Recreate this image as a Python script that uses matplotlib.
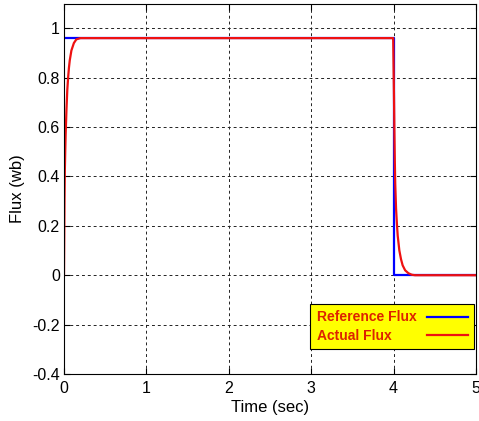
import matplotlib
matplotlib.use("Agg")
import matplotlib.pyplot as plt

plt.rcParams['font.family'] = ['Liberation Sans', 'DejaVu Sans']

ref_t = [0.0, 4.0, 4.0, 5.0]
ref_flux = [0.96, 0.96, 0.0, 0.0]

act_t = [0.0, 0.003, 0.006, 0.01, 0.015, 0.02, 0.03, 0.04, 0.05, 0.06, 0.07, 0.09,
         0.12, 0.15, 0.2, 0.25, 3.99, 3.995, 4.0, 4.005, 4.01, 4.015, 4.02, 4.03,
         4.04, 4.05, 4.07, 4.09, 4.11, 4.14, 4.18, 4.22, 4.26, 5.0]
act_flux = [0.0, 0.15, 0.3, 0.42, 0.5, 0.57, 0.67, 0.75, 0.8, 0.84, 0.87, 0.91,
            0.94, 0.955, 0.96, 0.96, 0.96, 0.96, 0.84, 0.72, 0.58, 0.46, 0.37, 0.27,
            0.21, 0.16, 0.1, 0.065, 0.04, 0.02, 0.008, 0.002, 0.0, 0.0]

xticks = [0, 1, 2, 3, 4, 5]
yticks = [-0.4, -0.2, 0, 0.2, 0.4, 0.6, 0.8, 1]
ytick_labels = ['-0.4', '-0.2', '0', '0.2', '0.4', '0.6', '0.8', '1']

fig = plt.figure(figsize=(4.79, 4.21), dpi=100)
ax = fig.add_axes([0.1336, 0.1116, 0.8601, 0.880])

ax.plot(ref_t, ref_flux, color='#0000ff', lw=1.6, label='Reference Flux')
ax.plot(act_t, act_flux, color='#ee1111', lw=1.6, label='Actual Flux')

ax.set_xlim(0, 5)
ax.set_ylim(-0.4, 1.1)
ax.set_xticks(xticks)
ax.set_xticklabels([str(v) for v in xticks])
ax.set_yticks(yticks)
ax.set_yticklabels(ytick_labels)
ax.tick_params(direction='in', length=4, labelsize=11.5, colors='black')
ax.tick_params(axis='x', pad=5)
ax.tick_params(axis='y', pad=3)
ax.tick_params(top=True, right=True, labeltop=False, labelright=False)
ax.grid(True, color='#222222', linestyle=(0, (3, 3)), lw=0.7)
ax.set_xlabel('Time (sec)', fontsize=12, labelpad=3)
ax.set_ylabel('Flux (wb)', fontsize=12, labelpad=5)
for s in ax.spines.values():
    s.set_linewidth(0.8)

leg = ax.legend(loc='lower right', markerfirst=False, frameon=True, fancybox=False,
                facecolor='#ffff00', edgecolor='black', framealpha=1,
                prop={'size': 10, 'weight': 'bold'}, labelcolor='#dd2200',
                borderaxespad=0.0, bbox_to_anchor=(0.995, 0.068),
                handlelength=2.9, borderpad=0.45, labelspacing=0.3, handletextpad=0.8)
leg.get_frame().set_linewidth(0.8)

# left-align the labels while keeping the handles aligned on the right
col = leg._legend_handle_box.get_children()[0]
col.align = 'left'
fig.canvas.draw()
widths = [t.get_window_extent().width for t in leg.get_texts()]
items = col.get_children()
maxw = max(widths)
for it, w in zip(items, widths):
    it.sep += (maxw - w) * 72.0 / fig.dpi

fig.savefig('out.png', dpi=100)
